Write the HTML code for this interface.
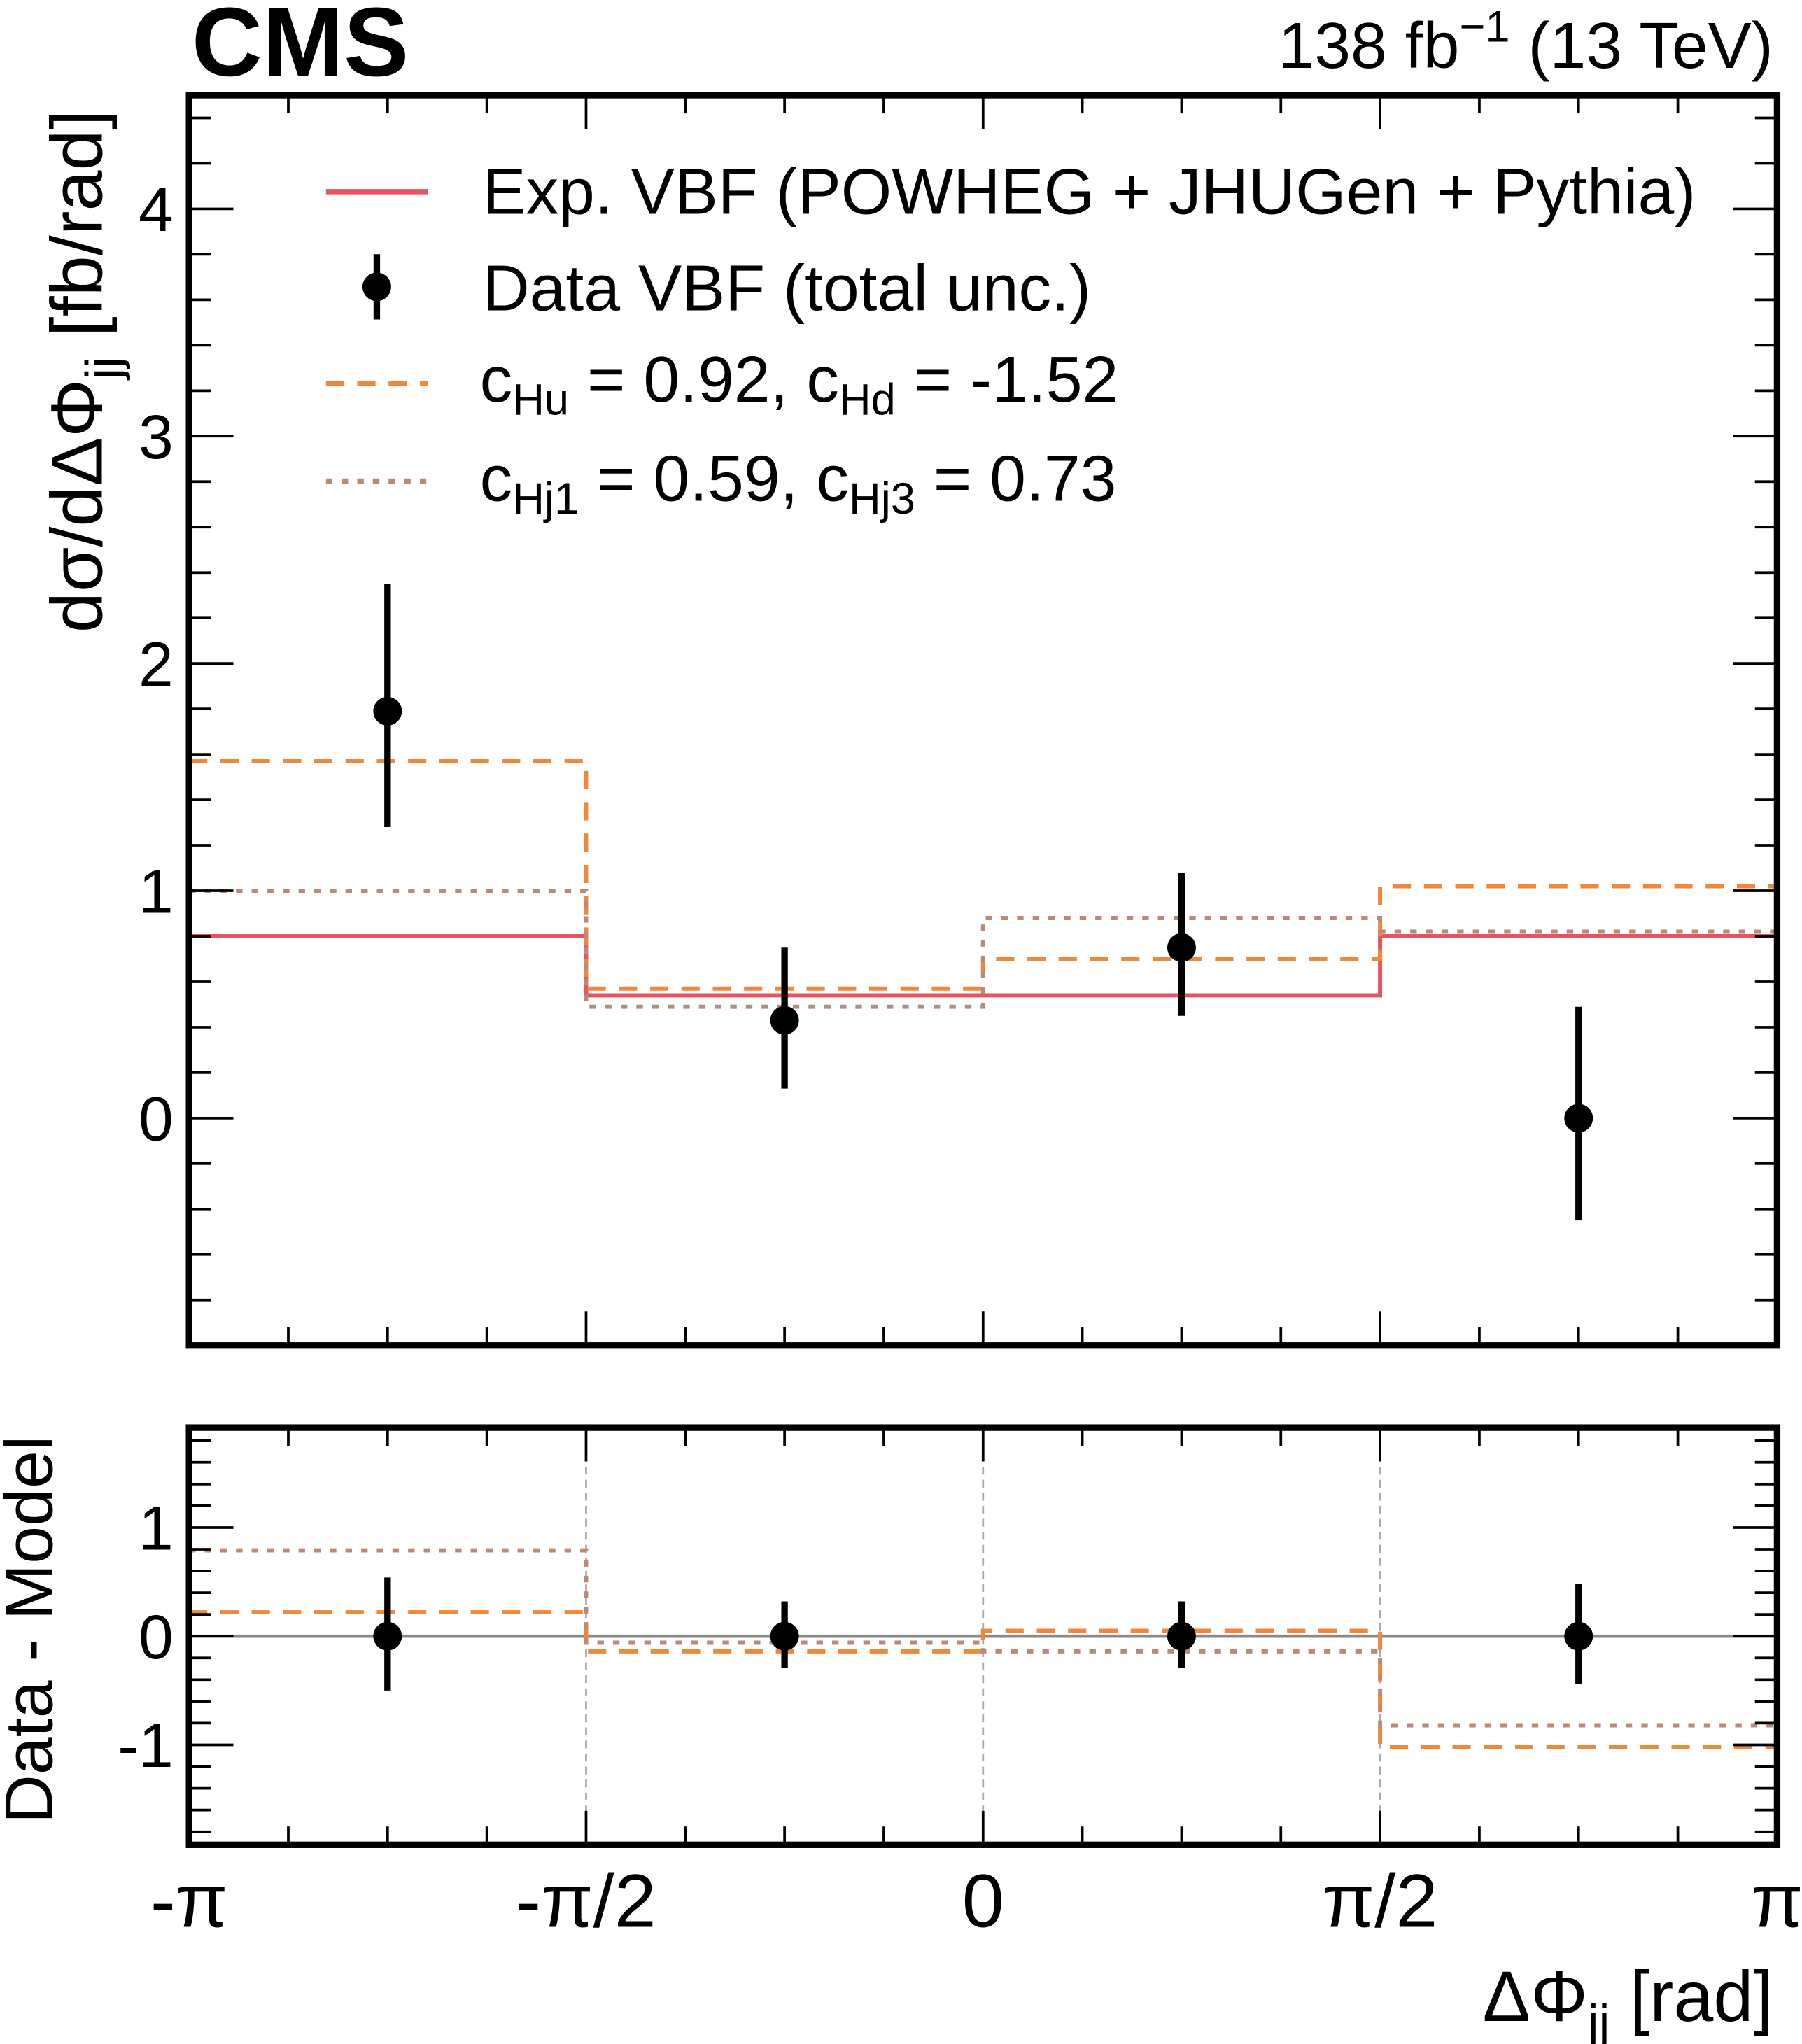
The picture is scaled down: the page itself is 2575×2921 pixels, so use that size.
<!DOCTYPE html>
<html><head><meta charset="utf-8"><style>
html,body{margin:0;padding:0;background:#fff}
svg{display:block}
text{font-family:"Liberation Sans",sans-serif;fill:#000}
</style></head><body>
<svg id="chart" width="2575" height="2921" viewBox="0 0 1382.1 1567.8" preserveAspectRatio="none" xmlns="http://www.w3.org/2000/svg">
<g id="main"></g>
<g id="ratio"></g>
<text x="147" y="58" font-size="75" font-weight="bold">CMS</text>
<text x="1360" y="52" font-size="50" text-anchor="end">138 fb<tspan dy="-20" font-size="34">−1</tspan><tspan dy="20"> (13 TeV)</tspan></text>
<text transform="translate(78,84) rotate(-90)" font-size="56" text-anchor="end">dσ/dΔΦ<tspan dy="14" font-size="38">jj</tspan><tspan dy="-14"> [fb/rad]</tspan></text>
<text transform="translate(40,1250) rotate(-90)" font-size="52" text-anchor="middle">Data - Model</text>
<text x="1360" y="1550" font-size="55" text-anchor="end">ΔΦ<tspan dy="14" font-size="38">jj</tspan><tspan dy="-14"> [rad]</tspan></text>
<g>
<line x1="250" y1="147" x2="328" y2="147" stroke="#e8535f" stroke-width="4"/>
<text x="370" y="164" font-size="50">Exp. VBF (POWHEG + JHUGen + Pythia)</text>
<line x1="289" y1="195" x2="289" y2="245" stroke="#000" stroke-width="5"/>
<circle cx="289" cy="220" r="11"/>
<text x="370" y="238" font-size="50">Data VBF (total unc.)</text>
<line x1="250" y1="294" x2="328" y2="294" stroke="#f0883a" stroke-width="4" stroke-dasharray="14,10"/>
<text x="368" y="308" font-size="50">c<tspan dy="10" font-size="34">Hu</tspan><tspan dy="-10"> = 0.92, c</tspan><tspan dy="10" font-size="34">Hd</tspan><tspan dy="-10"> = -1.52</tspan></text>
<line x1="250" y1="369" x2="328" y2="369" stroke="#b98a7a" stroke-width="4" stroke-dasharray="5,7"/>
<text x="368" y="384" font-size="50">c<tspan dy="10" font-size="34">Hj1</tspan><tspan dy="-10"> = 0.59, c</tspan><tspan dy="10" font-size="34">Hj3</tspan><tspan dy="-10"> = 0.73</tspan></text>
</g>
</svg>
<script>
const binEdges = [-1, -0.5, 0, 0.5, 1]; // in units of pi
const xTickLabels = ["-π", "-π/2", "0", "π/2", "π"];
const expVBF = [0.80, 0.54, 0.54, 0.80];
const dataVal = [1.79, 0.43, 0.75, 0.0];
const dataUp = [2.35, 0.75, 1.08, 0.49];
const dataDn = [1.28, 0.13, 0.45, -0.45];
const modelHu = [1.57, 0.57, 0.70, 1.02];
const modelHj = [1.00, 0.49, 0.88, 0.82];
const mainYTicks = [0, 1, 2, 3, 4];
const ratioHu = [0.22, -0.14, 0.05, -1.02];
const ratioHj = [0.79, -0.06, -0.14, -0.82];
const ratioErrUp = [0.54, 0.32, 0.32, 0.48];
const ratioErrDn = [-0.50, -0.29, -0.29, -0.44];
const ratioYTicks = [-1, 0, 1];

const NS = "http://www.w3.org/2000/svg";
const X0 = 145, X1 = 1363;
const sx = v => X0 + (v + 1) / 2 * (X1 - X0);
function mk(parent, tag, attrs) {
  const e = document.createElementNS(NS, tag);
  for (const k in attrs) e.setAttribute(k, attrs[k]);
  parent.appendChild(e); return e;
}
function steps(g, vals, sy, color, dash, name) {
  let d = "";
  vals.forEach((v, i) => {
    d += (i === 0 ? "M" : "L") + sx(binEdges[i]) + "," + sy(v) + "L" + sx(binEdges[i + 1]) + "," + sy(v);
  });
  const p = mk(g, "path", {d: d, fill: "none", stroke: color, "stroke-width": 3.2});
  if (dash) p.setAttribute("stroke-dasharray", dash);
  
  
}
function points(g, vals, up, dn, sy, name) {
  vals.forEach((v, i) => {
    const cx = sx((binEdges[i] + binEdges[i + 1]) / 2);
    const l = mk(g, "line", {x1: cx, x2: cx, y1: sy(up[i]), y2: sy(dn[i]), stroke: "#000", "stroke-width": 5});
    
    
    const c = mk(g, "circle", {cx: cx, cy: sy(v), r: 11, fill: "#000"});
    
    
  });
}
function frame(g, top, bot, ymin, ymax, sy, yticks) {
  for (let k = 0; k <= 16; k++) {
    const x = sx(-1 + k / 8);
    const len = k % 4 === 0 ? 26 : 14;
    mk(g, "line", {x1: x, x2: x, y1: bot, y2: bot - len, stroke: "#000", "stroke-width": 2});
    mk(g, "line", {x1: x, x2: x, y1: top, y2: top + len, stroke: "#000", "stroke-width": 2});
  }
  for (let v = Math.ceil(ymin * 5) / 5; v <= ymax + 1e-9; v += 0.2) {
    const y = sy(v);
    const major = Math.abs(v - Math.round(v)) < 1e-6;
    const len = major ? 34 : 17;
    mk(g, "line", {x1: X0, x2: X0 + len, y1: y, y2: y, stroke: "#000", "stroke-width": 2});
    mk(g, "line", {x1: X1, x2: X1 - len, y1: y, y2: y, stroke: "#000", "stroke-width": 2});
  }
  yticks.forEach(t => {
    const tx = mk(g, "text", {x: X0 - 12, y: sy(t) + 17, "font-size": 48, "text-anchor": "end"});
    tx.textContent = t;
    
    
  });
  const r = mk(g, "rect", {x: X0, y: top, width: X1 - X0, height: bot - top, fill: "none", stroke: "#000", "stroke-width": 5});
  
  
}
const gm = document.getElementById("main");
const MT = 73, MB = 1032, mYmin = -1, mYmax = 4.5;
const sym = v => MB - (v - mYmin) / (mYmax - mYmin) * (MB - MT);
steps(gm, expVBF, sym, "#e8535f", null, "exp-vbf-line");
steps(gm, modelHu, sym, "#f0883a", "14,10", "chu-chd-line");
steps(gm, modelHj, sym, "#b98a7a", "5,7", "chj1-chj3-line");
points(gm, dataVal, dataUp, dataDn, sym, "data");
frame(gm, MT, MB, mYmin, mYmax, sym, mainYTicks);
const gr = document.getElementById("ratio");
const RT = 1095, RB = 1415, rYmin = -1.92, rYmax = 1.92;
const syr = v => RB - (v - rYmin) / (rYmax - rYmin) * (RB - RT);
[1, 2, 3].forEach(i => {
  const l = mk(gr, "line", {x1: sx(binEdges[i]), x2: sx(binEdges[i]), y1: RT, y2: RB, stroke: "#aaa", "stroke-width": 1.5, "stroke-dasharray": "6,4"});
  
  
});
const zl = mk(gr, "line", {x1: X0, x2: X1, y1: syr(0), y2: syr(0), stroke: "#888", "stroke-width": 2.5});


steps(gr, ratioHu, syr, "#f0883a", "14,10", "ratio-chu-chd-line");
steps(gr, ratioHj, syr, "#b98a7a", "5,7", "ratio-chj1-chj3-line");
points(gr, [0, 0, 0, 0], ratioErrUp, ratioErrDn, syr, "ratio-data");
frame(gr, RT, RB, rYmin, rYmax, syr, ratioYTicks);
xTickLabels.forEach((t, i) => {
  const x = sx(-1 + i * 0.5);
  const tx = mk(gr, "text", {x: x, y: 1478, "font-size": 58, "text-anchor": "middle"});
  tx.textContent = t;
  
  
});
</script>
</body></html>
